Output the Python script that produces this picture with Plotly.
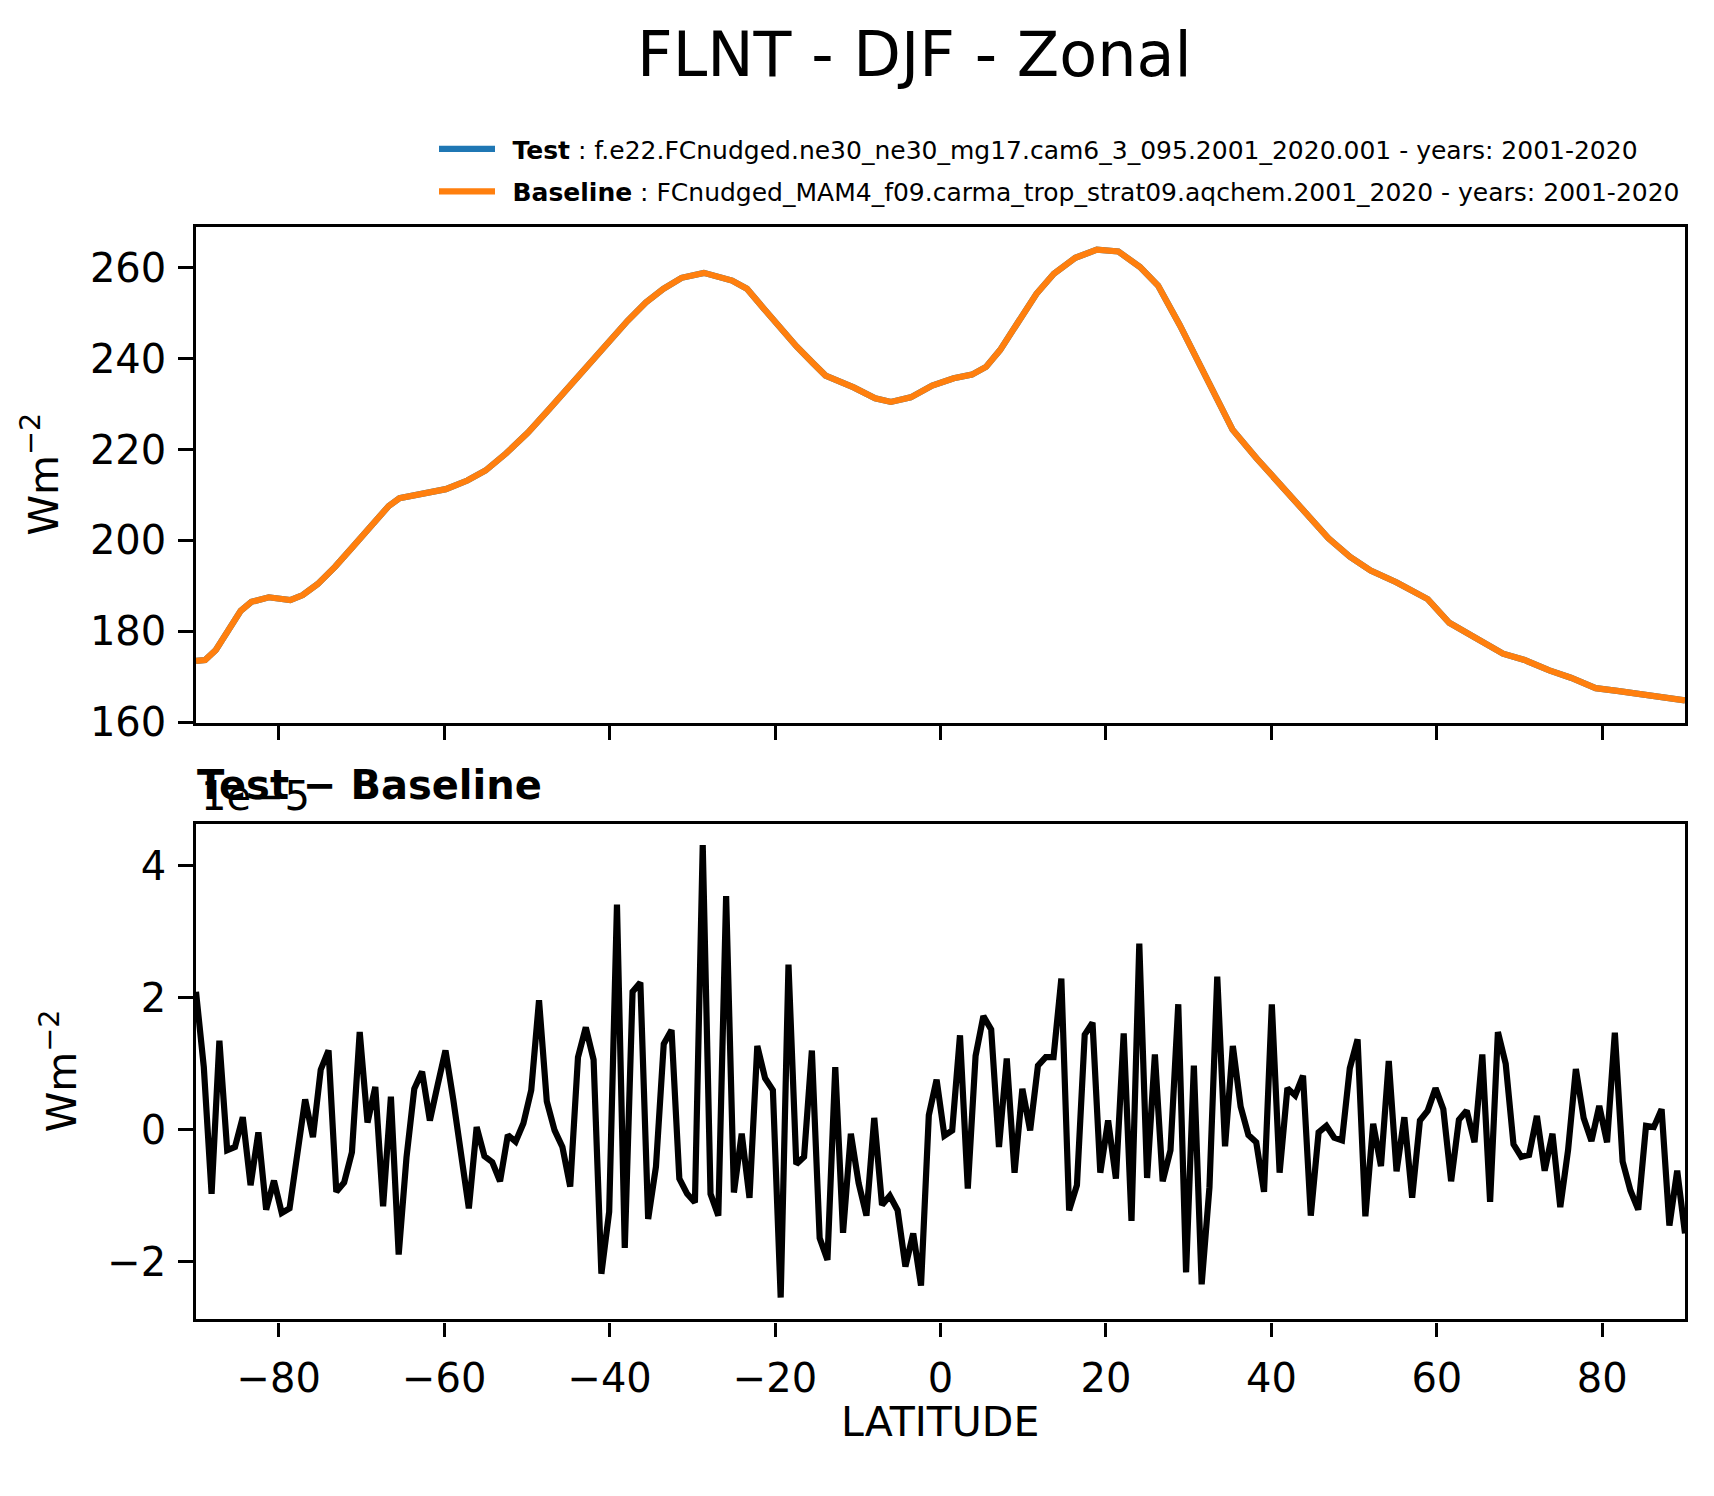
import numpy as np
import plotly.graph_objects as go

W, H = 1714, 1496

# zonal mean FLNT (W m-2)
lat_zonal = [-90.0, -88.9, -87.6, -86.4, -84.6, -83.3, -81.2, -78.6, -77.1, -75.3,
             -73.2, -71.0, -68.9, -66.7, -65.4, -62.8, -59.8, -57.2, -55.0, -52.5,
             -49.9, -47.3, -44.7, -42.1, -39.9, -37.8, -35.6, -33.5, -31.3, -29.2,
             -28.6, -25.2, -23.4, -21.3, -19.1, -17.4, -15.4, -13.9, -10.5, -7.9,
             -6.0, -3.6, -1.0, 1.6, 3.8, 5.5, 7.2, 9.4, 11.6, 13.7,
             16.3, 18.9, 21.5, 24.1, 26.3, 28.9, 31.0, 33.2, 35.3, 38.2,
             40.4, 43.4, 46.9, 49.5, 52.0, 55.1, 58.9, 61.5, 65.0, 68.0,
             70.6, 73.6, 76.2, 79.2, 81.8, 85.7, 90.0]
flnt = [173.5, 173.7, 175.9, 179.3, 184.5, 186.5, 187.5, 186.9, 188.0, 190.4,
        194.2, 198.7, 202.9, 207.6, 209.3, 210.1, 211.3, 213.2, 215.4, 219.2,
        223.7, 228.9, 234.3, 239.7, 244.4, 248.4, 252.4, 255.4, 257.8, 258.7,
        258.9, 257.2, 255.4, 250.9, 246.0, 242.7, 239.0, 236.3, 233.7, 231.3,
        230.5, 231.5, 234.1, 235.7, 236.5, 238.2, 241.9, 248.3, 254.3, 258.7,
        262.2, 264.0, 263.6, 260.2, 256.1, 247.5, 240.1, 231.9, 224.4, 218.1,
        213.6, 207.2, 200.5, 196.4, 193.4, 190.8, 187.1, 181.9, 178.1, 175.1,
        173.7, 171.4, 169.8, 167.5, 166.9, 166.0, 164.8]

# test - baseline on the 192 point f09 latitude grid, in units of 1e-5 W m-2
diff_e5 = [2.09, 0.95, -0.97, 1.35, -0.31, -0.26, 0.19, -0.84, -0.04, -1.21,
           -0.77, -1.26, -1.19, -0.40, 0.46, -0.11, 0.91, 1.20, -0.94, -0.80,
           -0.34, 1.48, 0.11, 0.65, -1.16, 0.50, -1.89, -0.42, 0.62, 0.88,
           0.14, 0.68, 1.20, 0.46, -0.40, -1.19, 0.04, -0.40, -0.49, -0.78,
           -0.08, -0.18, 0.10, 0.60, 1.96, 0.43, -0.01, -0.26, -0.86, 1.10,
           1.55, 1.06, -2.18, -1.24, 3.41, -1.79, 2.09, 2.23, -1.35, -0.56,
           1.30, 1.51, -0.74, -0.97, -1.10, 4.31, -0.97, -1.30, 3.54, -0.95,
           -0.06, -1.03, 1.27, 0.78, 0.60, -2.54, 2.50, -0.52, -0.41, 1.20,
           -1.64, -1.97, 0.95, -1.56, -0.06, -0.81, -1.30, 0.18, -1.14, -1.00,
           -1.22, -2.07, -1.57, -2.36, 0.22, 0.76, -0.09, -0.01, 1.43, -0.89,
           1.12, 1.72, 1.52, -0.26, 1.08, -0.65, 0.62, -0.01, 0.97, 1.10,
           1.10, 2.29, -1.22, -0.84, 1.44, 1.62, -0.65, 0.14, -0.74, 1.46,
           -1.38, 2.82, -0.73, 1.14, -0.78, -0.31, 1.90, -2.16, 0.97, -2.34,
           -0.87, 2.32, -0.25, 1.27, 0.35, -0.08, -0.19, -0.94, 1.90, -0.65,
           0.63, 0.52, 0.82, -1.30, -0.04, 0.06, -0.12, -0.16, 0.93, 1.37,
           -1.31, 0.09, -0.55, 1.04, -0.63, 0.19, -1.03, 0.14, 0.29, 0.63,
           0.31, -0.78, 0.15, 0.29, -0.19, 1.14, -1.09, 1.48, 1.00, -0.22,
           -0.41, -0.38, 0.21, -0.62, -0.06, -1.17, -0.31, 0.92, 0.18, -0.17,
           0.36, -0.19, 1.47, -0.48, -0.92, -1.21, 0.06, 0.04, 0.31, -1.45,
           -0.62, -1.57]
lat_grid = np.linspace(-90, 90, len(diff_e5))

test_name = "\u2002<b>Test</b> : f.e22.FCnudged.ne30_ne30_mg17.cam6_3_095.2001_2020.001 - years: 2001-2020"
base_name = "\u2002<b>Baseline</b> : FCnudged_MAM4_f09.carma_trop_strat09.aqchem.2001_2020 - years: 2001-2020"

x_ticks = [-80, -60, -40, -20, 0, 20, 40, 60, 80]
top_ticks = [160, 180, 200, 220, 240, 260]
bot_ticks = [-2, 0, 2, 4]

FONT = "DejaVu Sans"
LW = 3.3

fig = go.Figure()
fig.add_trace(go.Scatter(x=lat_zonal, y=flnt, mode="lines", name=test_name,
                         line=dict(color="#1f77b4", width=6.2),
                         legendgroup="t", xaxis="x", yaxis="y"))
fig.add_trace(go.Scatter(x=lat_zonal, y=flnt, mode="lines", name=base_name,
                         line=dict(color="#ff7f0e", width=6.2),
                         legendgroup="b", xaxis="x", yaxis="y"))
fig.add_trace(go.Scatter(x=lat_grid, y=diff_e5, mode="lines", showlegend=False,
                         line=dict(color="black", width=6.2),
                         xaxis="x2", yaxis="y2"))

ax = dict(showline=True, mirror=True, linecolor="black", linewidth=LW,
          ticks="outside", ticklen=14.6, tickwidth=LW, tickcolor="black",
          showgrid=False, zeroline=False, tickfont=dict(family=FONT, size=40, color="black"))
xdom = [196 / W, 1685 / W]

fig.update_layout(
    width=W, height=H, margin=dict(l=0, r=0, t=0, b=0),
    paper_bgcolor="white", plot_bgcolor="white",
    font=dict(family=FONT, size=40, color="black"),
    xaxis=dict(ax, domain=xdom, range=[-90, 90], tickvals=x_ticks, showticklabels=False, anchor="y"),
    yaxis=dict(ax, domain=[1 - 734 / H, 1 - 230.5 / H], range=[159.9, 269.0],
               tickvals=top_ticks, ticklabelstandoff=4, anchor="x"),
    xaxis2=dict(ax, domain=xdom, range=[-90, 90], tickvals=x_ticks, ticklabelstandoff=7, anchor="y2"),
    yaxis2=dict(ax, domain=[1 - 1340 / H, 1 - 836.5 / H], range=[-2.871, 4.635],
                tickvals=bot_ticks, ticklabelstandoff=4, anchor="x2"),
    legend=dict(x=434 / W, y=1 - 128 / H, xanchor="left", yanchor="top",
                font=dict(family=FONT, size=25, color="black"),
                itemwidth=56, tracegroupgap=7, bgcolor="rgba(0,0,0,0)"),
    annotations=[
        dict(text="FLNT - DJF - Zonal", x=914 / W, y=1 - 55 / H, xref="paper", yref="paper",
             xanchor="center", yanchor="middle", showarrow=False, font=dict(size=62)),
        dict(text="Wm<sup>−2</sup>", x=40 / W, y=1 - 482 / H, xref="paper", yref="paper",
             xanchor="center", yanchor="middle", textangle=-90, showarrow=False, font=dict(size=41)),
        dict(text="Wm<sup>−2</sup>", x=59 / W, y=1 - 1088 / H, xref="paper", yref="paper",
             xanchor="center", yanchor="middle", textangle=-90, showarrow=False, font=dict(size=41)),
        dict(text="<b>Test − Baseline</b>", x=195 / W, y=1 - 797 / H, xref="paper", yref="paper",
             xanchor="left", yanchor="middle", showarrow=False, font=dict(size=40)),
        dict(text="1e−5", x=199 / W, y=1 - 808 / H, xref="paper", yref="paper",
             xanchor="left", yanchor="middle", showarrow=False, font=dict(size=40)),
        dict(text="LATITUDE", x=940 / W, y=1 - 1444 / H, xref="paper", yref="paper",
             xanchor="center", yanchor="middle", showarrow=False, font=dict(size=41)),
    ],
)

# drop the default page margin so the figure sits at the window's top-left corner
fig.write_html("out.html", config={"displayModeBar": False},
               post_script="document.body.style.margin='0px';document.body.style.overflow='hidden';")
